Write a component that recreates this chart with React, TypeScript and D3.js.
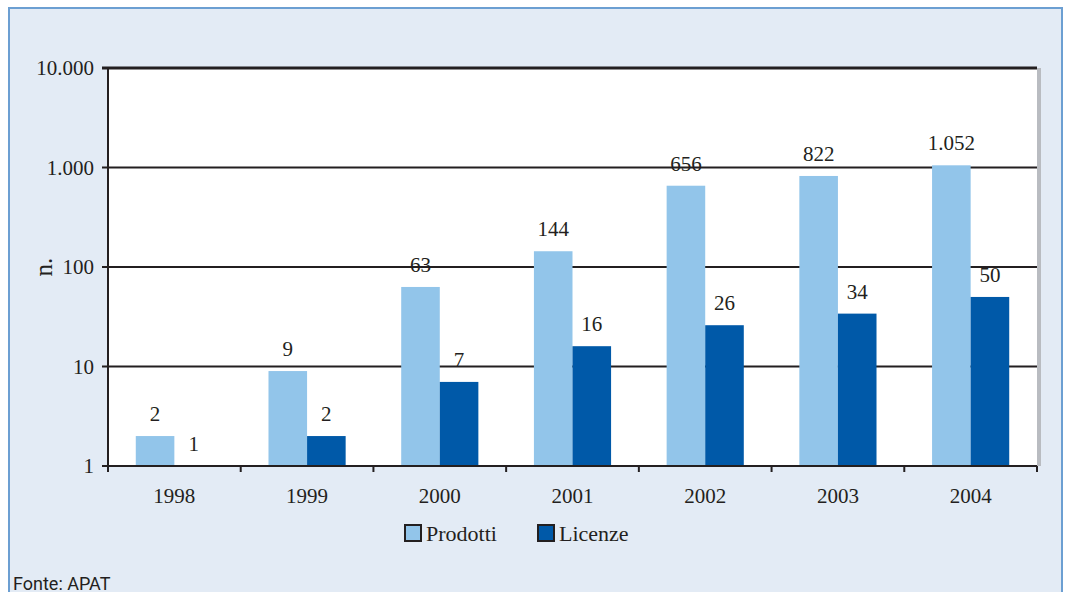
import React from "react";
import * as d3 from "d3";

const years = ["1998", "1999", "2000", "2001", "2002", "2003", "2004"];
const prodotti = [2, 9, 63, 144, 656, 822, 1052];
const licenze = [1, 2, 7, 16, 26, 34, 50];
const yTicks = [1, 10, 100, 1000, 10000];
const seriesNames = ["Prodotti", "Licenze"];
const seriesColors = ["#92c5ea", "#0059a8"];

const W = 1066;
const H = 592;
const left = 108;
const right = 1037;
const top = 68;
const bottom = 466;

const fmt = (v: number) => d3.format(",")(v).replace(/,/g, ".");

export default function App() {
  const x = d3.scaleBand().domain(years).range([left, right]);
  const inner = d3
    .scaleBand()
    .domain(seriesNames)
    .range([0, x.bandwidth()])
    .paddingInner(0)
    .paddingOuter(0.72);
  const y = d3.scaleLog().domain([1, 10000]).range([bottom, top]);
  const series = [prodotti, licenze];
  const serif = "'Liberation Serif', 'DejaVu Serif', serif";

  return (
    <svg
      width={W}
      height={H}
      style={{ position: "absolute", left: 0, top: 0 }}
    >
      <rect x={9} y={8} width={1053} height={600} fill="#e3ebf5" stroke="#6c9fd2" strokeWidth={2} />
      {/* grey shadow right of the plot */}
      <rect x={right} y={top} width={4} height={bottom - top} fill="#b9bcc1" />
      <rect x={left} y={top} width={right - left} height={bottom - top} fill="#fff" />
      {yTicks.map(t => (
        <g key={t}>
          <line
            x1={left - 6}
            x2={right}
            y1={y(t)}
            y2={y(t)}
            stroke="#231f20"
            strokeWidth={t === 10000 ? 3 : 2}
          />
          <text
            x={left - 14}
            y={y(t) + 7}
            textAnchor="end"
            fontFamily={serif}
            fontSize={21}
            fill="#231f20"
          >
            {fmt(t)}
          </text>
        </g>
      ))}
      {years.map((yr, i) =>
        series.map((s, j) => {
          const bx = (x(yr) as number) + (inner(seriesNames[j]) as number);
          const by = y(s[i]);
          return (
            <g key={yr + j}>
              <rect
                x={bx}
                y={by}
                width={inner.bandwidth()}
                height={bottom - by}
                fill={seriesColors[j]}
              />
              <text
                x={bx + inner.bandwidth() / 2}
                y={by - 15}
                textAnchor="middle"
                fontFamily={serif}
                fontSize={21}
                fill="#231f20"
              >
                {fmt(s[i])}
              </text>
            </g>
          );
        })
      )}
      <line x1={left} x2={left} y1={top - 1} y2={bottom + 6} stroke="#231f20" strokeWidth={2} />
      <line x1={left} x2={right} y1={bottom} y2={bottom} stroke="#231f20" strokeWidth={2} />
      {years.map((yr, i) => (
        <g key={yr}>
          {i > 0 && (
            <line
              x1={x(yr)}
              x2={x(yr)}
              y1={bottom}
              y2={bottom + 6}
              stroke="#231f20"
              strokeWidth={2}
            />
          )}
          <text
            x={(x(yr) as number) + x.bandwidth() / 2}
            y={bottom + 37}
            textAnchor="middle"
            fontFamily={serif}
            fontSize={21}
            fill="#231f20"
          >
            {yr}
          </text>
        </g>
      ))}
      <line x1={right} x2={right} y1={bottom} y2={bottom + 6} stroke="#231f20" strokeWidth={2} />
      <text
        transform={`translate(52, ${(top + bottom) / 2}) rotate(-90)`}
        textAnchor="middle"
        fontFamily={serif}
        fontSize={25}
        fill="#231f20"
      >
        n.
      </text>
      {seriesNames.map((name, j) => (
        <g key={name} transform={`translate(${405 + j * 133}, 525)`}>
          <rect x={0} y={0} width={16} height={16} fill={seriesColors[j]} stroke="#231f20" strokeWidth={2} />
          <text x={21} y={16} fontFamily={serif} fontSize={22} fill="#231f20">
            {name}
          </text>
        </g>
      ))}
      <text
        x={13}
        y={590}
        fontFamily="'Liberation Sans Narrow', 'Roboto', sans-serif"
        fontSize={18}
        fill="#231f20"
      >
        Fonte: APAT
      </text>
    </svg>
  );
}
